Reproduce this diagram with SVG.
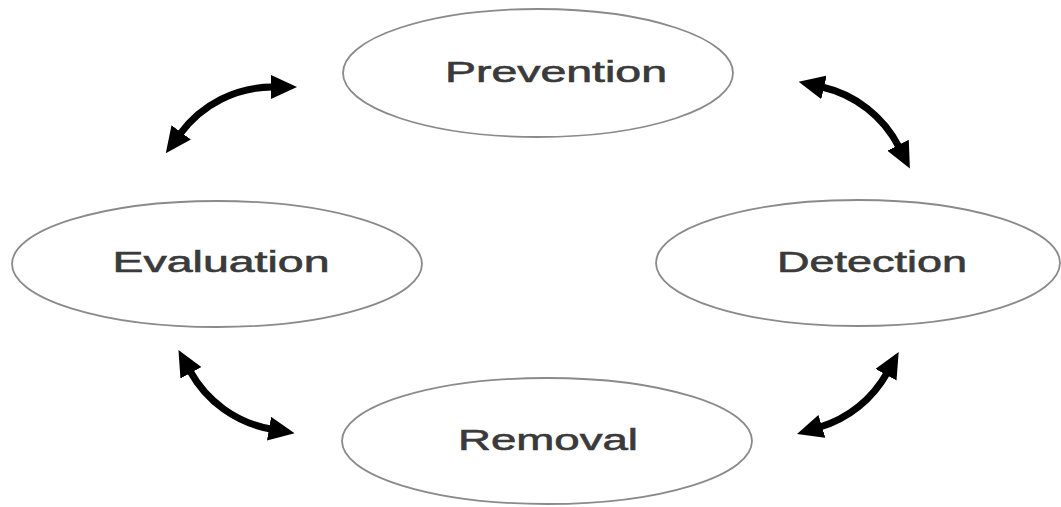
<svg xmlns="http://www.w3.org/2000/svg" width="1061" height="507" viewBox="0 0 1061 507">
<style>
.node ellipse{fill:#fff;stroke:#8a8a8a;stroke-width:1.8}
.node text{font-family:"Liberation Sans",Arial,sans-serif;font-size:29px;fill:#3a3a3a;stroke:#3a3a3a;stroke-width:0.6;text-anchor:middle}
.conn path{fill:none;stroke:#000;stroke-width:7}
</style>
<defs>
<marker id="ah" viewBox="0 0 26 24" markerUnits="userSpaceOnUse" markerWidth="26" markerHeight="24" refX="2" refY="12" orient="auto-start-reverse">
<path d="M0,0 L26,12 L0,24 z" fill="#000"/>
</marker>
</defs>
<rect width="1061" height="507" fill="#fff"/>
<g id="prevention" class="node">
<ellipse cx="538" cy="73" rx="195" ry="64"/>
<text x="556" y="82" textLength="222" lengthAdjust="spacingAndGlyphs">Prevention</text>
</g>
<g id="evaluation" class="node">
<ellipse cx="217" cy="264" rx="205" ry="63"/>
<text x="221" y="272" textLength="217" lengthAdjust="spacingAndGlyphs">Evaluation</text>
</g>
<g id="detection" class="node">
<ellipse cx="858" cy="263" rx="202" ry="63"/>
<text x="872" y="272" textLength="190" lengthAdjust="spacingAndGlyphs">Detection</text>
</g>
<g id="removal" class="node">
<ellipse cx="547" cy="441" rx="205" ry="63"/>
<text x="548" y="450" textLength="180" lengthAdjust="spacingAndGlyphs">Removal</text>
</g>
<g id="connectors" class="conn">
<path d="M180,134 A115,115 0 0 1 273,87" marker-start="url(#ah)" marker-end="url(#ah)"/>
<path d="M822,87 A115,115 0 0 1 899,147" marker-start="url(#ah)" marker-end="url(#ah)"/>
<path d="M190,371 A115,115 0 0 0 271,429" marker-start="url(#ah)" marker-end="url(#ah)"/>
<path d="M887,373 A115,115 0 0 1 820,427" marker-start="url(#ah)" marker-end="url(#ah)"/>
</g>
</svg>
